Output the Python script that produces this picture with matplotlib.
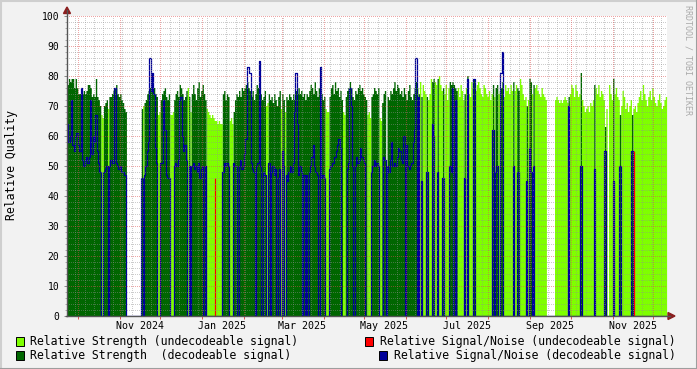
import numpy as np
import pandas as pd
import matplotlib
matplotlib.use('Agg')
import matplotlib.pyplot as plt
import matplotlib.dates as mdates
from matplotlib.patches import Polygon, Rectangle
from matplotlib.lines import Line2D

# one value per day, starting 2024-09-23
start_day = '2024-09-23'

# D = decodeable, U = undecodeable, . = no data
kind = ('DDDDDDDDDDDDDDDDDDDDDDDDD' 'UUDDDU' 'DDDDDDDDDDDDD' '...........'
        'DUDDDDDDDDDDUU' 'DDDDDDDUUU' 'DDDDDDDDDDUDUD' 'DDDDDDDDDD'
        'UUUUUUUUUUUU' 'DDDDDUUU' 'DDDDDDDDDDDDDDDDDDDD' 'DDDDUUDDDDDDDDDUDDU'
        'DDDDDDDDDDDDDDDDDDDDDDDDDDDDD' 'UUU' 'DDDDDDDDDD' 'UU' 'DDDDDDDDDDDDDDDD'
        'UUU' 'DDDDDD' 'UU' 'DDD' '.' 'DDDDDDDDDDDDDDDDDDDDDD'
        'UDUDUUUDUUUDDUUDUUUDUUUUDD' 'DDDD' 'UUUUUDUDUUUUDUU' 'UUUUUUUUUUU'
        'DUDDUUDDUUUUUUU' 'DUUDDUUUUUDUDDUDUUUUUUUUU' '......' 'UUUUUUUUUU'
        'DUUUUUUUUDUUUUUUUUUDUUUUUUUDU' '.'
        'UUUDUUUUDUUUUUUUUDUUUU' 'UUUUUUUUUUUUUUUUUUUUU')

strength = [
    77, 79, 78, 79, 79, 76, 79, 76, 74, 74, 75, 74, 75, 74, 75, 77, 77, 76, 73, 74, 73, 79, 73, 72, 70,
    67, 66, 70, 71, 72, 69,
    73, 73, 74, 75, 76, 77, 74, 73, 74, 72, 71, 69, 68,
    0, 0, 0, 0, 0, 0, 0, 0, 0, 0, 0,
    69, 70, 71, 72, 74, 75, 76, 77, 79, 76, 74, 73, 67, 68,
    72, 74, 75, 76, 73, 72, 74, 67, 67, 68,
    72, 74, 75, 73, 77, 76, 74, 72, 73, 75, 76, 73, 68, 74,
    77, 74, 72, 76, 78, 73, 75, 77, 74, 72,
    69, 68, 67, 66, 67, 66, 65, 65, 64, 65, 64, 64,
    74, 75, 72, 74, 73, 65, 66, 64,
    68, 72, 74, 73, 75, 73, 76, 75, 76, 77, 78, 76, 75, 73, 75, 72, 74, 77, 76, 78,
    74, 72, 73, 75, 70, 71, 74, 72, 73, 71, 74, 72, 70, 73, 75, 69, 74, 72, 68,
    73, 72, 74, 73, 72, 74, 72, 75, 74, 76, 74, 75, 73, 74, 72, 74, 73,
    75, 77, 76, 74, 78, 75, 73, 76, 77, 74, 72, 73,
    69, 68, 68,
    73, 76, 77, 74, 78, 75, 76, 73, 75, 72,
    68, 67,
    73, 75, 76, 78, 76, 73, 72, 75, 74, 76, 77, 75, 76, 74, 73, 72,
    67, 68, 66,
    73, 74, 76, 75, 74, 76,
    66, 65,
    71, 74, 75,
    0,
    73, 72, 75, 74, 76, 78, 75, 77, 76, 74, 75, 73, 76, 74, 72, 75, 77, 73, 72, 74, 76, 78,
    76, 74, 78, 73, 77, 75, 74, 73, 72, 74, 79, 78, 79, 78, 77, 79, 80, 77, 75, 76, 74, 77, 72, 76, 78, 77,
    78, 77, 76, 75,
    76, 73, 77, 75, 72, 74, 76, 80, 74, 73, 78, 76, 79, 75, 77,
    78, 76, 74, 73, 77, 76, 74, 73, 75, 72, 74,
    77, 73, 76, 77, 74, 75, 76, 78, 73, 77, 75, 76, 74, 77, 75,
    78, 75, 77, 76, 75, 79, 77, 74, 72, 73, 70, 72, 79, 78, 74, 77, 76, 77, 75, 74, 73, 76, 74, 73, 72,
    0, 0, 0, 0, 0, 0,
    72, 73, 72, 71, 72, 71, 72, 73, 72, 71,
    73, 74, 77, 76, 73, 77, 75, 73, 74, 81, 72, 70, 68, 69, 70, 68, 71, 70, 72, 77, 76, 74, 77, 73, 75,
    74, 72, 63, 69,
    0,
    77, 74, 72, 79, 74, 76, 73, 72, 67, 70, 75, 73, 69, 71, 68, 70, 72, 67, 69, 70, 68, 71,
    73, 75, 72, 77, 74, 72, 70, 73, 75, 72, 76, 73, 71, 70, 72, 74, 71, 69, 70, 72, 73,
]

snr_dec = [
    64, 58, 60, 72, 57, 55, 60, 61, 57, 55, 76, 52, 50, 52, 53, 51, 53, 72, 54, 60, 58, 67, 55, 51, 48,
    0, 0, 48, 49, 50, 0,
    50, 52, 51, 51, 76, 51, 50, 49, 50, 48, 48, 47, 47,
    0, 0, 0, 0, 0, 0, 0, 0, 0, 0, 0,
    46, 0, 47, 50, 55, 58, 86, 75, 81, 74, 56, 51, 0, 0,
    51, 51, 72, 62, 47, 46, 46, 0, 0, 0,
    50, 51, 50, 52, 72, 73, 60, 55, 57, 52, 0, 50, 0, 50,
    51, 49, 50, 48, 51, 46, 49, 50, 0, 50,
    0, 0, 0, 0, 0, 0, 0, 0, 0, 0, 0, 0,
    48, 51, 50, 51, 50, 0, 0, 0,
    51, 50, 50, 0, 50, 52, 49, 50, 54, 59, 83, 83, 81, 51, 49, 48, 0, 50, 51, 85,
    50, 0, 48, 47, 0, 0, 51, 0, 48, 50, 47, 49, 0, 46, 49, 0, 55, 50, 0,
    47, 45, 48, 50, 48, 51, 68, 81, 64, 47, 50, 48, 0, 47, 0, 47, 0,
    48, 50, 53, 57, 50, 48, 47, 0, 83, 46, 47, 46,
    0, 0, 0,
    49, 50, 51, 51, 53, 55, 57, 59, 56, 0,
    0, 0,
    0, 49, 51, 76, 70, 50, 0, 50, 53, 51, 52, 56, 53, 52, 51, 0,
    0, 0, 0,
    48, 50, 52, 50, 51, 50,
    0, 0,
    0, 53, 52,
    0,
    50, 48, 52, 58, 50, 51, 50, 53, 56, 55, 52, 51, 60, 0, 57, 50, 49, 50, 51, 58, 62, 86,
    0, 73, 0, 45, 0, 0, 0, 48, 0, 0, 0, 64, 60, 0, 0, 48, 0, 0, 0, 46, 0, 0, 0, 0, 50, 48,
    76, 0, 72, 0,
    0, 0, 0, 0, 0, 46, 0, 79, 0, 0, 0, 0, 79, 0, 0,
    0, 0, 0, 0, 0, 0, 0, 0, 0, 0, 0,
    62, 0, 48, 50, 0, 0, 81, 88, 0, 0, 0, 0, 0, 0, 0,
    50, 0, 0, 48, 48, 0, 0, 0, 0, 0, 45, 0, 56, 48, 0, 50, 0, 0, 0, 0, 0, 0, 0, 0, 0,
    0, 0, 0, 0, 0, 0,
    0, 0, 0, 0, 0, 0, 0, 0, 0, 0,
    70, 0, 0, 0, 0, 0, 0, 0, 0, 50, 0, 0, 0, 0, 0, 0, 0, 0, 0, 49, 0, 0, 0, 0, 0,
    0, 0, 55, 0,
    0,
    0, 0, 0, 45, 0, 0, 0, 0, 50, 0, 0, 0, 0, 0, 0, 0, 0, 55, 0, 0, 0, 0,
    0, 0, 0, 0, 0, 0, 0, 0, 0, 0, 0, 0, 0, 0, 0, 0, 0, 0, 0, 0, 0,
]

# signal/noise of undecodeable signal: only two short spikes
snr_undec_days = ['2025-01-10', '2025-11-16']
snr_undec_vals = [46, 55]

tick_labels = ['Nov 2024', 'Jan 2025', 'Mar 2025', 'May 2025', 'Jul 2025', 'Sep 2025', 'Nov 2025']

LIGHT = '#7FFF00'
DARK = '#006600'
BLUE = '#000099'
RED = '#FF0000'
GRID = (0.56, 0.56, 0.56, 0.45)
MGRID = (0.87, 0.31, 0.31, 0.5)
BG = '#F2F2F2'
MONO = 'DejaVu Sans Mono'

W, H = 697, 369


def fx(px):
    return px / W


def fy(py):
    return 1 - py / H


s = np.array(strength, dtype=float)
k = np.array(list(kind))
sn = np.array(snr_dec, dtype=float)
n = len(s)

t0 = pd.Timestamp(start_day)
edges = mdates.date2num(pd.date_range(t0, periods=n + 1, freq='D'))

undec = np.where(k == 'U', s, 0)
dec = np.where(k == 'D', s, 0)

fig = plt.figure(figsize=(W / 100, H / 100), dpi=100, facecolor=BG)
ax = fig.add_axes([fx(67), fy(315.5), fx(667) - fx(67), fy(15.5) - fy(315.5)])
ax.set_facecolor('white')
for sp in ax.spines.values():
    sp.set_visible(False)

ax.fill_between(edges, np.append(undec, 0), step='post', color=LIGHT, lw=0, antialiased=False, zorder=2)
ax.fill_between(edges, np.append(dec, 0), step='post', color=DARK, lw=0, antialiased=False, zorder=3)
ax.step(edges, np.append(sn, 0), where='post', color=BLUE, lw=0.9, zorder=4)
red_x = mdates.date2num(pd.to_datetime(snr_undec_days)) + 0.5
ax.vlines(red_x, 0, snr_undec_vals, color=RED, lw=0.9, zorder=4)

x_end = edges[0] + 444.3
ax.set_xlim(edges[0], x_end)
ax.set_ylim(0, 100)

# grid (drawn on top like rrdtool)
weeks = mdates.date2num(pd.date_range(t0, periods=70, freq='W-SUN'))
months = mdates.date2num(pd.date_range('2024-10-01', '2025-12-01', freq='MS'))
weeks = [w for w in weeks if w < x_end and w not in months]
dots = (0, (1, 1.6))
ax.vlines(weeks, 0, 100, colors=[GRID], lw=0.72, linestyles=dots, antialiased=False, zorder=5)
ax.vlines(months, 0, 100, colors=[MGRID], lw=0.72, linestyles=dots, antialiased=False, zorder=6)
minor_y = [v for v in range(2, 100, 2) if v % 10]
ax.hlines(minor_y, edges[0], x_end, colors=[GRID], lw=0.72, linestyles=dots, antialiased=False, zorder=5)
ax.hlines(range(10, 101, 10), edges[0], x_end, colors=[MGRID], lw=0.72, linestyles=dots,
          antialiased=False, zorder=6)

# ticks
lab_pos = mdates.date2num(pd.to_datetime(tick_labels, format='%b %Y') + pd.Timedelta(days=15))
ax.set_xticks(lab_pos)
ax.set_xticklabels(tick_labels, fontfamily=MONO, fontsize=7.2)
ax.set_xticks(months, minor=True)
ax.tick_params(axis='x', which='major', length=0, pad=4)
ax.tick_params(axis='x', which='minor', length=2.5, width=0.7, color=MGRID[:3])
ax.set_yticks(range(0, 101, 10))
ax.set_yticklabels([str(v) for v in range(0, 101, 10)], fontfamily=MONO, fontsize=7.0)
ax.set_yticks(range(0, 101, 2), minor=True)
ax.tick_params(axis='y', which='major', length=2.5, width=0.7, color='#888888', pad=3)
ax.tick_params(axis='y', which='minor', length=1.5, width=0.7, color='#AAAAAA')

# axes with arrows
fig.add_artist(Line2D([fx(67), fx(67)], [fy(316), fy(10)], color='#555555', lw=1.0))
fig.add_artist(Line2D([fx(66), fx(670)], [fy(316), fy(316)], color='#555555', lw=1.0))
fig.add_artist(Polygon([(fx(63.5), fy(13.5)), (fx(70.5), fy(13.5)), (fx(67), fy(7))],
                       closed=True, color='#8B1E1E'))
fig.add_artist(Polygon([(fx(668), fy(312.5)), (fx(668), fy(319.5)), (fx(675), fy(316))],
                       closed=True, color='#8B1E1E'))

fig.text(fx(12), fy(165), 'Relative Quality', rotation=90, ha='center', va='center',
         fontfamily=MONO, fontsize=8.3)
fig.text(fx(688), fy(5), 'RRDTOOL / TOBI OETIKER', rotation=270, ha='center', va='top',
         fontfamily=MONO, fontsize=6, color='#AAAAAA')

# legend
legend_items = [
    (16, 341, LIGHT, 'Relative Strength (undecodeable signal)', 30),
    (365, 341, RED, 'Relative Signal/Noise (undecodeable signal)', 380),
    (16, 355, DARK, 'Relative Strength  (decodeable signal)', 30),
    (379, 355, BLUE, 'Relative Signal/Noise (decodeable signal)', 394.5),
]
for bx, by, col, txt, tx in legend_items:
    fig.add_artist(Rectangle((fx(bx), fy(by + 4.5)), 8 / W, 9 / H, facecolor=col,
                             edgecolor='black', lw=0.7, transform=fig.transFigure))
    fig.text(fx(tx), fy(by), txt, ha='left', va='center', fontfamily=MONO, fontsize=8.3)

# rrdtool style frame
fig.add_artist(Line2D([0, 1], [fy(0.5), fy(0.5)], color='#CFCFCF', lw=1.5))
fig.add_artist(Line2D([fx(0.5), fx(0.5)], [0, 1], color='#CFCFCF', lw=1.5))
fig.add_artist(Line2D([0, 1], [fy(368.5), fy(368.5)], color='#9E9E9E', lw=1.5))
fig.add_artist(Line2D([fx(696.5), fx(696.5)], [0, 1], color='#9E9E9E', lw=1.5))

fig.savefig('out.png', dpi=100, facecolor=BG)
